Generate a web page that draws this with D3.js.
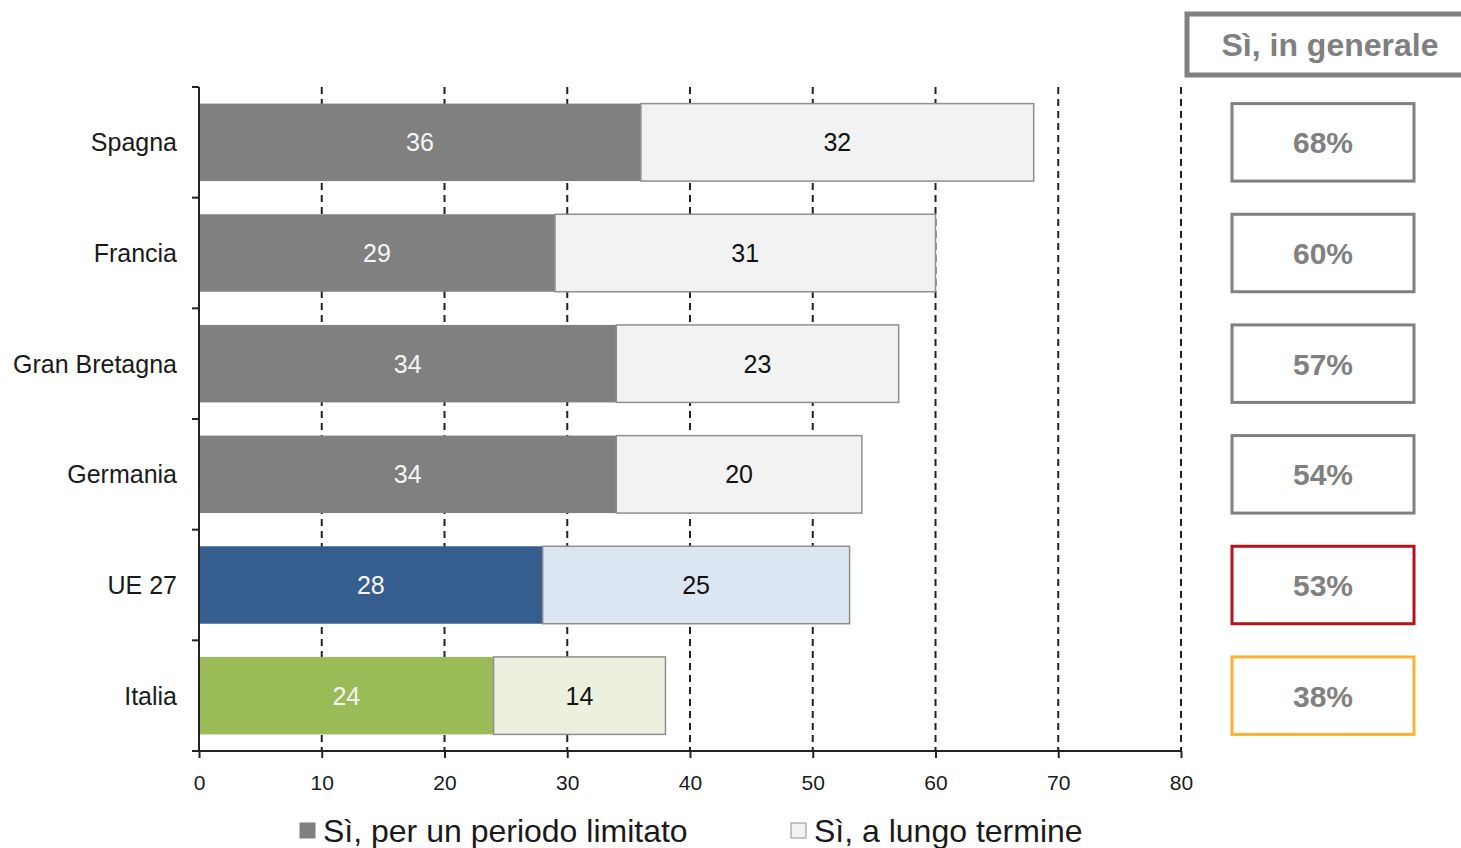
<!DOCTYPE html>
<html>
<head>
<meta charset="utf-8">
<script src="https://cdn.jsdelivr.net/npm/d3@7"></script>
<style>
  html, body { margin: 0; padding: 0; background: #fff; }
  svg { display: block; font-family: "Liberation Sans", Arial, sans-serif; }
</style>
</head>
<body>
<svg id="chart" width="1461" height="848"></svg>
<script>
const categories = ["Spagna", "Francia", "Gran Bretagna", "Germania", "UE 27", "Italia"];
const limitato = [36, 29, 34, 34, 28, 24];
const lungo = [32, 31, 23, 20, 25, 14];
const generale = [68, 60, 57, 54, 53, 38];
const xTicks = [0, 10, 20, 30, 40, 50, 60, 70, 80];
const seriesNames = ["Sì, per un periodo limitato", "Sì, a lungo termine"];
const headerLabel = "Sì, in generale";

const darkColors = ["#808080", "#808080", "#808080", "#808080", "#355e8e", "#9bbb59"];
const lightColors = ["#f2f2f2", "#f2f2f2", "#f2f2f2", "#f2f2f2", "#dce6f2", "#ebf1de"];
const boxColors = ["#808080", "#808080", "#808080", "#808080", "#b5121b", "#f9b233"];

(function () {
const svg = d3.select("#chart");
const x = d3.scaleLinear().domain([0, 80]).range([199, 1181]);
const y = d3.scaleBand().domain(categories).range([87, 751]).paddingInner(0.3).paddingOuter(0.15);
const step = y.step();
const yTop = 87, yBottom = 751;

// gridlines
svg.append("g").selectAll("line").data(xTicks.filter(d => d > 0)).join("line")
  .attr("x1", d => x(d)).attr("x2", d => x(d))
  .attr("y1", yTop).attr("y2", yBottom)
  .attr("stroke", "#222").attr("stroke-width", 2)
  .attr("stroke-dasharray", "7,5");

const rows = categories.map((c, i) => ({c, i, a: limitato[i], b: lungo[i], t: generale[i]}));

// bars
const bars = svg.append("g");
bars.selectAll("rect.a").data(rows).join("rect").attr("class", "a")
  .attr("x", x(0)).attr("y", d => y(d.c))
  .attr("width", d => x(d.a) - x(0)).attr("height", y.bandwidth())
  .attr("fill", d => darkColors[d.i]);
bars.selectAll("rect.b").data(rows).join("rect").attr("class", "b")
  .attr("x", d => x(d.a)).attr("y", d => y(d.c))
  .attr("width", d => x(d.a + d.b) - x(d.a)).attr("height", y.bandwidth())
  .attr("fill", d => lightColors[d.i])
  .attr("stroke", "#8f8f8f").attr("stroke-width", 1.5);

// bar labels
bars.selectAll("text.a").data(rows).join("text").attr("class", "a")
  .attr("x", d => x(d.a / 2)).attr("y", d => y(d.c) + y.bandwidth() / 2 + 9)
  .attr("text-anchor", "middle").attr("font-size", 25).attr("fill", "#f5f5f5")
  .text(d => d.a);
bars.selectAll("text.b").data(rows).join("text").attr("class", "b")
  .attr("x", d => x(d.a + d.b / 2)).attr("y", d => y(d.c) + y.bandwidth() / 2 + 9)
  .attr("text-anchor", "middle").attr("font-size", 25).attr("fill", "#111")
  .text(d => d.b);

// y axis
const yAxis = svg.append("g");
yAxis.append("line").attr("x1", x(0)).attr("x2", x(0)).attr("y1", yTop).attr("y2", yBottom)
  .attr("stroke", "#222").attr("stroke-width", 2);
yAxis.selectAll("line.t").data(d3.range(categories.length + 1)).join("line").attr("class", "t")
  .attr("x1", x(0) - 7).attr("x2", x(0))
  .attr("y1", i => yTop + i * step).attr("y2", i => yTop + i * step)
  .attr("stroke", "#222").attr("stroke-width", 2);
yAxis.selectAll("text").data(categories).join("text")
  .attr("x", 177).attr("y", d => y(d) + y.bandwidth() / 2 + 9)
  .attr("text-anchor", "end").attr("font-size", 25).attr("fill", "#1a1a1a")
  .text(d => d);

// x axis
const xAxis = svg.append("g").attr("transform", `translate(0,${yBottom})`)
  .call(d3.axisBottom(x).tickValues(xTicks).tickSize(7).tickPadding(17).tickSizeOuter(0));
xAxis.select(".domain").attr("stroke", "#222").attr("stroke-width", 2)
  .attr("d", `M${x(0) - 7},0H${x(80)}`);
xAxis.selectAll(".tick line").attr("stroke", "#222").attr("stroke-width", 2);
xAxis.selectAll(".tick text").attr("font-size", 21).attr("fill", "#1a1a1a")
  .attr("font-family", "Liberation Sans, Arial, sans-serif");

// header box
svg.append("rect").attr("x", 1187).attr("y", 14).attr("width", 300).attr("height", 61)
  .attr("fill", "#fff").attr("stroke", "#808080").attr("stroke-width", 5);
svg.append("text").attr("x", 1330).attr("y", 56).attr("text-anchor", "middle")
  .attr("font-size", 32).attr("font-weight", "bold").attr("fill", "#808080")
  .text(headerLabel);

// total boxes
const boxes = svg.append("g");
boxes.selectAll("rect").data(rows).join("rect")
  .attr("x", 1232).attr("y", d => y(d.c)).attr("width", 182).attr("height", y.bandwidth())
  .attr("fill", "#fff").attr("stroke", d => boxColors[d.i]).attr("stroke-width", 3);
boxes.selectAll("text").data(rows).join("text")
  .attr("x", 1323).attr("y", d => y(d.c) + y.bandwidth() / 2 + 11)
  .attr("text-anchor", "middle").attr("font-size", 30).attr("font-weight", "bold")
  .attr("fill", "#808080").text(d => d.t + "%");

// legend
const legend = svg.append("g");
const legendItems = [
  {name: seriesNames[0], x: 300, fill: "#808080", stroke: "#808080"},
  {name: seriesNames[1], x: 791, fill: "#f2f2f2", stroke: "#8f8f8f"}
];
legend.selectAll("rect").data(legendItems).join("rect")
  .attr("x", d => d.x).attr("y", 823).attr("width", 15).attr("height", 15)
  .attr("fill", d => d.fill).attr("stroke", d => d.stroke).attr("stroke-width", 1);
legend.selectAll("text").data(legendItems).join("text")
  .attr("x", d => d.x + 23).attr("y", 842)
  .attr("font-size", 32).attr("fill", "#1a1a1a")
  .text(d => d.name);
})();
</script>
</body>
</html>
